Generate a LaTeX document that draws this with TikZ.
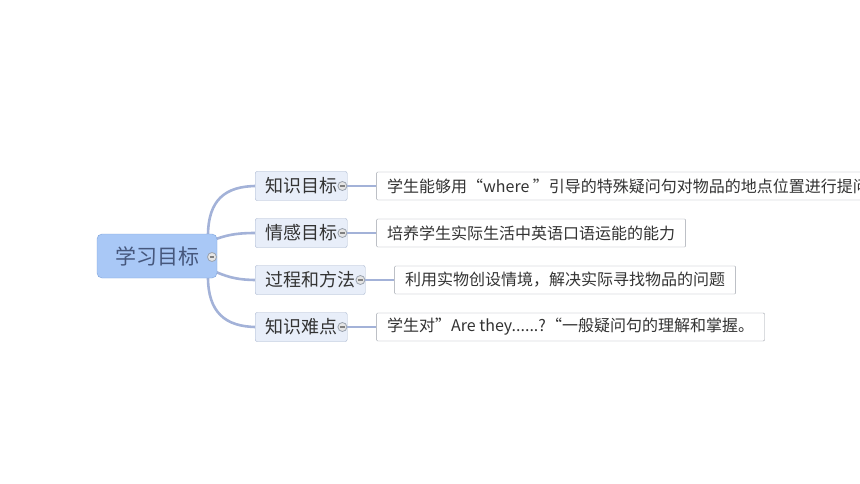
\documentclass[tikz,border=0pt]{standalone}
\usepackage{fontspec}
\setmainfont{Noto Sans CJK SC}
\usepackage{xcolor}
\usetikzlibrary{positioning}
\definecolor{rootfill}{HTML}{A9C8F6}
\definecolor{rootline}{HTML}{7FA3DA}
\definecolor{roottext}{HTML}{46577C}
\definecolor{subfill}{HTML}{E8EEF9}
\definecolor{subline}{HTML}{A5B3CD}
\definecolor{branchline}{HTML}{A3B2D8}
\definecolor{leafline}{HTML}{9A9FA8}
\definecolor{foldline}{HTML}{9AA2AE}
\tikzset{
  rootbox/.style={draw=rootline, fill=rootfill, rounded corners=5pt, text=roottext,
    font=\fontsize{21}{21}\selectfont, minimum width=120, minimum height=44, inner sep=0},
  subbox/.style={draw=subline, fill=subfill, rounded corners=2pt, text=black!80,
    font=\fontsize{18}{18}\selectfont, minimum height=29, inner xsep=10, anchor=west},
  leafbox/.style={draw=leafline, fill=white, rounded corners=1pt, text=black!80,
    font=\fontsize{16}{16}\selectfont, minimum height=28, inner xsep=10.5},
  fold/.style={circle, draw=foldline, fill=black!10, minimum size=9, inner sep=0, line width=0.8pt,
    path picture={\draw[black!50, line width=1.4pt]
      ([xshift=-2.4pt]path picture bounding box.center) -- ([xshift=2.4pt]path picture bounding box.center);}},
  branch/.style={branchline, line width=2.6pt},
  twig/.style={branchline, line width=1.6pt}
}
\begin{document}
\begin{tikzpicture}[x=1pt, y=-1pt]
\useasboundingbox (0,0) rectangle (860,484);
\clip (0,0) rectangle (860,484);

\coordinate (r1) at (208,236);
\coordinate (r2) at (216,239);
\coordinate (r3) at (216,272);
\coordinate (r4) at (208,277);

\draw[branch] (r1) .. controls (208,200) and (225,186) .. (257,186);
\draw[branch] (r2) .. controls (230,234) and (240,233) .. (257,233);
\draw[branch] (r3) .. controls (230,278) and (240,280) .. (257,280);
\draw[branch] (r4) .. controls (208,312) and (225,327) .. (257,327);

\node[rootbox] (goal) at (157,256) {学习目标\hspace{6pt}};
\node[fold] (fg) at (212,257) {};

\node[subbox] (k1) at (255,186) {知识目标};
\node[subbox] (k2) at (255,233) {情感目标};
\node[subbox] (k3) at (255,280) {过程和方法};
\node[subbox] (k4) at (255,327) {知识难点};

\node[leafbox, right=29 of k1] (l1) {学生能够用“where ”引导的特殊疑问句对物品的地点位置进行提问};
\node[leafbox, right=29 of k2] (l2) {培养学生实际生活中英语口语运能的能力};
\node[leafbox, right=29 of k3] (l3) {利用实物创设情境，解决实际寻找物品的问题};
\node[leafbox, right=29 of k4] (l4) {学生对”Are they......?“一般疑问句的理解和掌握。};

\foreach \i in {1,...,4} {
  \node[fold] (f\i) at ([xshift=-5]k\i.east) {};
  \draw[twig] (f\i) -- (l\i);
}
\end{tikzpicture}
\end{document}
